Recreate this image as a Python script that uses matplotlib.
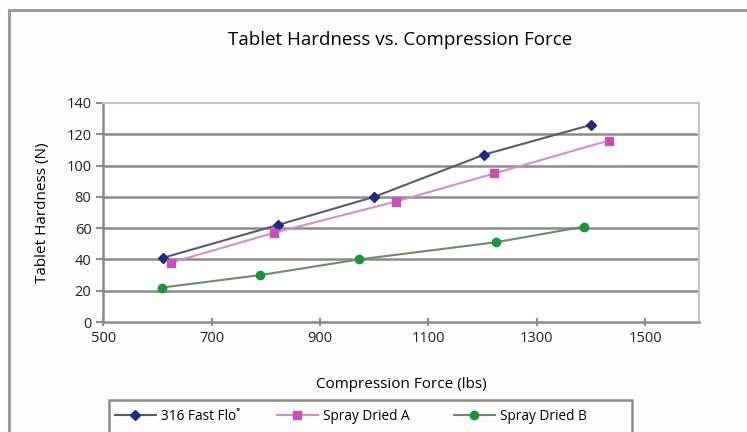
import matplotlib.pyplot as plt
from matplotlib.patches import Rectangle

plt.rcParams['font.family'] = ['Open Sans', 'DejaVu Sans']

# data
fast_flo_x = [610, 822, 1000, 1203, 1400]
fast_flo_y = [41, 62, 80, 107, 126]
dried_a_x = [625, 815, 1040, 1222, 1433]
dried_a_y = [38, 57, 77, 95, 116]
dried_b_x = [608, 790, 972, 1225, 1388]
dried_b_y = [22, 30, 40, 51, 61]

x_ticks = [500, 700, 900, 1100, 1300, 1500]
y_ticks = [0, 20, 40, 60, 80, 100, 120, 140]

fig = plt.figure(figsize=(7.47, 4.32), dpi=100)
fig.patch.set_facecolor('#fdfdfc')

# outer chart frame (runs off the right and bottom of the image)
fig.add_artist(Rectangle((9 / 747, -0.1), 1.2, 1 - 10 / 432 + 0.1,
                         transform=fig.transFigure, fill=False,
                         edgecolor='#a09c9c', linewidth=2.2))

ax = fig.add_axes([103.3 / 747, 1 - 322 / 432, (699.3 - 103.3) / 747, (322 - 103) / 432])
ax.set_facecolor('white')

for y in y_ticks[1:-1]:
    ax.axhline(y, color='#8e8a8a', linewidth=1.8, zorder=1)

l1, = ax.plot(fast_flo_x, fast_flo_y, color='#5a5a78', linewidth=1.5, marker='D',
              markersize=5, markerfacecolor='#1f2a80', markeredgecolor='#1f2a80',
              label='316 Fast Flo\u02da', zorder=3)
l2, = ax.plot(dried_a_x, dried_a_y, color='#d98ccb', linewidth=1.5, marker='s',
              markersize=6, markerfacecolor='#c84fb4', markeredgecolor='#c84fb4',
              label='Spray Dried A', zorder=3)
l3, = ax.plot(dried_b_x, dried_b_y, color='#6a8c6a', linewidth=1.5, marker='o',
              markersize=6, markerfacecolor='#22913d', markeredgecolor='#22913d',
              label='Spray Dried B', zorder=3)

ax.set_xlim(500, 1600)
ax.set_ylim(0, 140)
ax.set_xticks(x_ticks)
ax.set_yticks(y_ticks)
ax.tick_params(labelsize=10.5, color='#8e8a8a', length=4, width=1.5, colors='#222222')
ax.tick_params(axis='x', direction='inout', length=6)
ax.tick_params(axis='y', direction='out', length=5)

for side in ['top', 'right']:
    ax.spines[side].set_color('#c8c4c4')
    ax.spines[side].set_linewidth(1.5)
for side in ['left', 'bottom']:
    ax.spines[side].set_color('#8e8a8a')
    ax.spines[side].set_linewidth(1.8)

ax.set_xlabel('Compression Force (lbs)', fontsize=11, labelpad=22)
ax.set_ylabel('Tablet Hardness (N)', fontsize=11, labelpad=12)
fig.text(400 / 747, 1 - 40 / 432, 'Tablet Hardness vs. Compression Force',
         ha='center', va='center', fontsize=13.5)

# legend box (bottom edge is cut off in the original)
fig.add_artist(Rectangle((109 / 747, -0.1), (632 - 109) / 747, 0.1 + 1 - 400 / 432,
                         transform=fig.transFigure, fill=False,
                         edgecolor='#8e8a8a', linewidth=1.8))
# one small legend per series so the entries sit where they do in the original
for line, x0 in zip([l1, l2, l3], [115, 277, 454]):
    fig.legend(handles=[line], loc='center left', bbox_to_anchor=(x0 / 747, 1 - 416 / 432),
               frameon=False, fontsize=9.8, handlelength=3.0, handletextpad=0.4,
               borderpad=0, borderaxespad=0)

fig.savefig('out.png', dpi=100)
